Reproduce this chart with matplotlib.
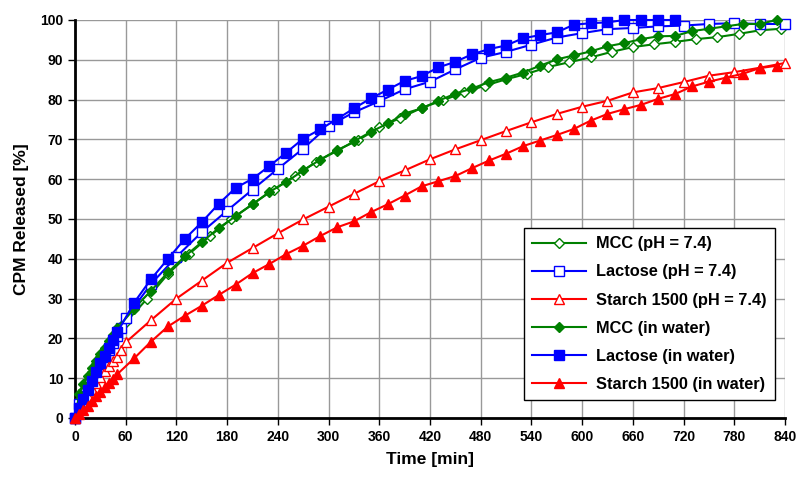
import matplotlib
matplotlib.use("Agg")
import matplotlib.pyplot as plt

plt.rcParams['font.family'] = ['Liberation Sans', 'DejaVu Sans']
plt.rcParams['font.weight'] = 'bold'

# sampling times (min)
t_water = [0, 5, 10, 15, 20, 25, 30, 35, 40, 45, 50,
           70, 90, 110, 130, 150, 170, 190, 210, 230, 250, 270, 290, 310, 330,
           350, 370, 390, 410, 430, 450, 470, 490, 510, 530, 550, 570, 590, 610,
           630, 650, 670, 690, 710, 730, 750, 770, 790, 810, 830]
t_lac_water = t_water[:44]
t_mcc_ph = [0, 5, 10, 15, 20, 25, 30, 35, 40, 45, 50, 55, 60,
            85, 110, 135, 160, 185, 210, 235, 260, 285, 310, 335, 360, 385, 410,
            435, 460, 485, 510, 535, 560, 585, 610, 635, 660, 685, 710, 735, 760,
            785, 810, 835]
t_ph = [0, 5, 10, 15, 20, 25, 30, 35, 40, 45, 50, 55, 60,
        90, 120, 150, 180, 210, 240, 270, 300, 330, 360, 390, 420, 450, 480,
        510, 540, 570, 600, 630, 660, 690, 720, 750, 780, 810, 840]

# released fraction (%)
mcc_ph = [0, 4.5, 7.0, 9.5, 11.5, 13.5, 15.3, 17.0, 18.7, 20.2, 21.7, 23.0, 24.0,
          29.9, 36.2, 41.2, 45.8, 50.0, 53.7, 57.4, 60.8, 64.3, 67.3, 69.8, 73.0,
          75.4, 77.9, 79.8, 81.8, 83.5, 85.1, 86.5, 88.2, 89.4, 90.6, 92.0, 93.2,
          93.9, 94.5, 95.2, 95.7, 96.5, 97.4, 97.8]
lac_ph = [0, 3.5, 5.5, 7.5, 9.5, 11.5, 13.5, 15.3, 17.0, 18.8, 20.5, 22.5, 25.0,
          33.7, 40.5, 46.7, 52.1, 57.4, 62.6, 67.7, 73.4, 76.8, 79.6, 82.6, 84.5,
          87.6, 90.5, 92.0, 93.8, 95.6, 96.7, 97.7, 98.0, 98.4, 98.6, 99.0, 99.2,
          99.0, 99.0]
starch_ph = [0, 2.0, 3.8, 5.5, 7.2, 8.8, 10.3, 11.7, 13.0, 14.2, 15.4, 17.0, 19.0,
             24.6, 30.0, 34.5, 39.0, 42.7, 46.4, 49.9, 53.1, 56.3, 59.5, 62.2, 65.0,
             67.5, 69.8, 72.1, 74.3, 76.4, 78.2, 79.7, 81.8, 82.9, 84.4, 86.0, 86.9,
             88.0, 89.2]
mcc_water = [0, 6.0, 8.5, 10.5, 12.5, 14.3, 16.0, 17.7, 19.3, 20.8, 22.5,
             27.5, 32.0, 36.6, 40.6, 44.2, 47.7, 50.7, 53.7, 56.8, 59.3, 62.2, 64.9,
             67.1, 69.5, 71.9, 74.0, 76.5, 77.8, 79.7, 81.5, 82.8, 84.4, 85.5, 86.8,
             88.5, 90.1, 91.1, 92.1, 93.4, 94.2, 95.2, 95.9, 96.0, 97.2, 97.8, 98.4,
             99.0, 99.0, 100.0]
lac_water = [0, 2.5, 4.8, 7.0, 9.3, 11.6, 13.7, 15.6, 17.5, 19.5, 21.5,
             29.0, 34.9, 40.0, 45.0, 49.2, 53.8, 57.8, 60.1, 63.3, 66.7, 70.2, 72.5,
             75.1, 77.8, 80.3, 82.5, 84.7, 85.9, 88.1, 89.5, 91.4, 92.7, 93.6, 95.4,
             96.2, 96.9, 98.8, 99.2, 99.4, 100.0, 100.0, 100.0, 100.0]
starch_water = [0, 1.0, 2.0, 3.1, 4.2, 5.4, 6.6, 7.8, 8.9, 9.9, 11.0,
                15.0, 19.2, 23.0, 25.7, 28.2, 30.9, 33.5, 36.4, 38.7, 41.2, 43.3, 45.7,
                47.9, 49.4, 51.7, 53.7, 55.9, 58.2, 59.5, 60.8, 62.8, 64.7, 66.4, 68.3,
                69.7, 71.1, 72.6, 74.7, 76.4, 77.6, 78.7, 80.2, 81.4, 83.3, 84.5, 85.5,
                86.5, 87.9, 88.5]

green = '#008000'
blue = '#0000FF'
red = '#FF0000'

fig = plt.figure(figsize=(7.98, 4.83), dpi=100)
ax = fig.add_axes([0.094, 0.1346, 0.8897, 0.824])

series = [
    (t_mcc_ph, mcc_ph, green, 'D', 'white', 'MCC (pH = 7.4)', 5.5),
    (t_ph, lac_ph, blue, 's', 'white', 'Lactose (pH = 7.4)', 6.5),
    (t_ph, starch_ph, red, '^', 'white', 'Starch 1500 (pH = 7.4)', 7),
    (t_water, mcc_water, green, 'D', green, 'MCC (in water)', 5.5),
    (t_lac_water, lac_water, blue, 's', blue, 'Lactose (in water)', 6.5),
    (t_water, starch_water, red, '^', red, 'Starch 1500 (in water)', 7),
]
for t, y, col, mk, face, lab, ms in series:
    ax.plot(t, y, color=col, lw=1.5, marker=mk, markersize=ms,
            markerfacecolor=face, markeredgecolor=col, markeredgewidth=1.0,
            label=lab, clip_on=False, zorder=3)

ax.set_xlim(0, 840)
ax.set_ylim(0, 100)
ax.set_xticks(range(0, 841, 60))
ax.set_yticks(range(0, 101, 10))
ax.grid(True, color='#999999', lw=1.0)
ax.set_axisbelow(True)
for side in ['top', 'right']:
    ax.spines[side].set_visible(False)
for side in ['left', 'bottom']:
    ax.spines[side].set_linewidth(2)
    ax.spines[side].set_color('black')
ax.tick_params(labelsize=10, length=5, width=1, direction='out')

ax.set_xlabel('Time [min]', fontsize=12.5, fontweight='bold', labelpad=6)
ax.set_ylabel('CPM Released [%]', fontsize=12.5, fontweight='bold', labelpad=8)

leg = ax.legend(loc='lower right', bbox_to_anchor=(0.986, 0.045), fontsize=11.8,
                handlelength=3.3, handletextpad=0.6, labelspacing=0.8,
                fancybox=False, edgecolor='black', framealpha=1, borderpad=0.5,
                borderaxespad=0)
leg.get_frame().set_linewidth(1.0)

fig.savefig('out.png', dpi=100)
